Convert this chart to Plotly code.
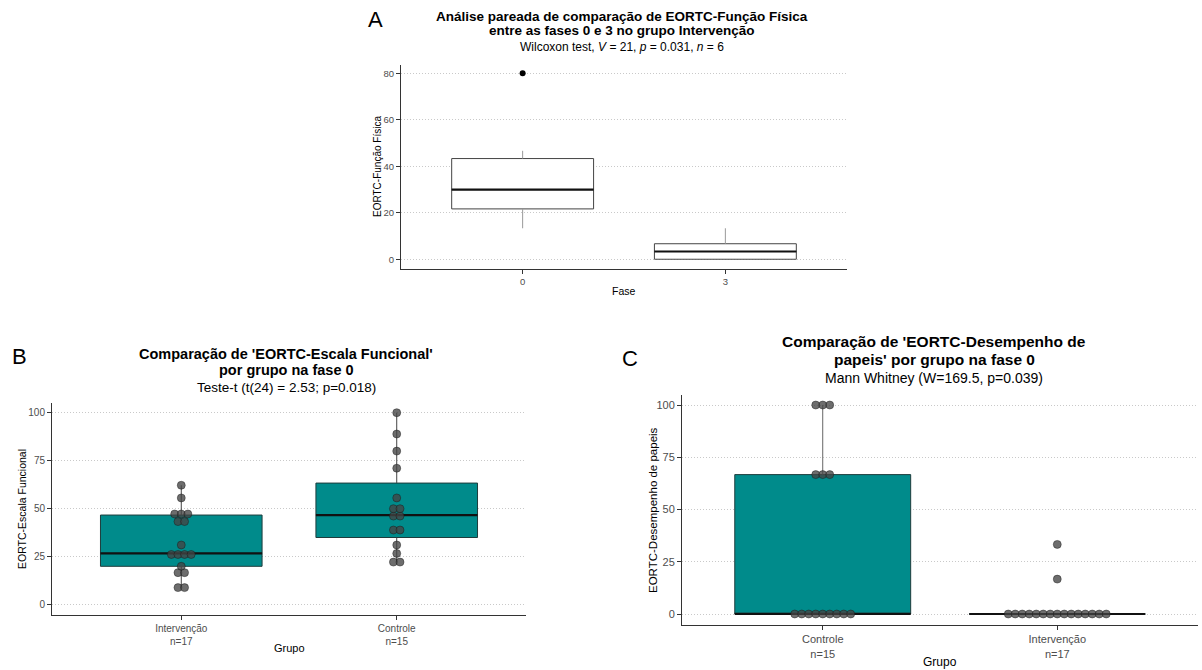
import numpy as np
import plotly.graph_objects as go

W, H = 1202, 670
FONT = "Liberation Sans, Arial, sans-serif"

# ---------------- data ----------------
# Panel A: EORTC-Função Física, fases 0 e 3 (grupo Intervenção, n=6 pareado)
fase_labels = ["0", "3"]
fase0 = [13.33, 20.0, 26.67, 33.33, 46.67, 80.0]
fase3 = [0.0, 0.0, 0.0, 6.67, 6.67, 13.33]

# Panel B: EORTC-Escala Funcional por grupo (fase 0)
grupos_B = ["Intervenção<br>n=17", "Controle<br>n=15"]
escala_intervencao = [8.9, 8.9, 16.7, 16.7, 20.0, 25.6, 25.6, 26.7, 26.7, 31.1,
                      43.3, 43.3, 46.7, 47.8, 47.8, 55.6, 62.2]
escala_controle = [22.2, 22.2, 26.7, 31.1, 38.9, 38.9, 45.6, 46.7, 50.0, 50.0,
                   55.6, 71.1, 80.0, 88.9, 100.0]

# Panel C: EORTC-Desempenho de papeis por grupo (fase 0)
grupos_C = ["Controle<br>n=15", "Intervenção<br>n=17"]
papeis_controle = [0, 0, 0, 0, 0, 0, 0, 0, 0, 66.7, 66.7, 66.7, 100, 100, 100]
papeis_intervencao = [0, 0, 0, 0, 0, 0, 0, 0, 0, 0, 0, 0, 0, 0, 0, 16.7, 33.3]

yticks_A = [0, 20, 40, 60, 80]
yticks_BC = [0, 25, 50, 75, 100]

TEAL = "#008B8B"

# ---------------- helpers ----------------
def xd(l, r):
    return [l / W, r / W]


def yd(top, bottom):
    return [1 - bottom / H, 1 - top / H]


def stats(v):
    v = np.asarray(v, float)
    q1, med, q3 = np.percentile(v, [25, 50, 75])
    iqr = q3 - q1
    lo = v[v >= q1 - 1.5 * iqr].min()
    hi = v[v <= q3 + 1.5 * iqr].max()
    out = v[(v < lo) | (v > hi)]
    return q1, med, q3, lo, hi, out


def dot_bins(vals, bw):
    v = sorted(vals)
    bins, cur, start = [], [v[0]], v[0]
    for x in v[1:]:
        if x - start < bw:
            cur.append(x)
        else:
            bins.append(cur)
            cur, start = [x], x
    bins.append(cur)
    return [((min(b) + max(b)) / 2, len(b)) for b in bins]


fig = go.Figure()


def add_panel(ax, groups, width, fill, box_col, whisk_col, dots, dx, bw, outlier=False):
    xa = "x" if ax == 1 else f"x{ax}"
    ya = "y" if ax == 1 else f"y{ax}"
    for pos, vals in enumerate(groups):
        q1, med, q3, lo, hi, out = stats(vals)
        fig.add_trace(go.Box(
            x=[pos], q1=[q1], median=[med], q3=[q3], lowerfence=[q1], upperfence=[q3],
            width=width, fillcolor=fill, line=dict(color=box_col, width=1),
            whiskerwidth=0, boxpoints=False, showlegend=False, hoverinfo="skip",
            xaxis=xa, yaxis=ya))
        for a, b in ((q3, hi), (q1, lo)):
            if b != a:
                fig.add_trace(go.Scatter(x=[pos, pos], y=[a, b], mode="lines",
                                         line=dict(color=whisk_col, width=1),
                                         showlegend=False, hoverinfo="skip",
                                         xaxis=xa, yaxis=ya))
        fig.add_trace(go.Scatter(x=[pos - width / 2, pos + width / 2], y=[med, med],
                                 mode="lines", line=dict(color="#111111", width=2.2),
                                 showlegend=False, hoverinfo="skip", xaxis=xa, yaxis=ya))
        if outlier and len(out):
            fig.add_trace(go.Scatter(x=[pos] * len(out), y=list(out), mode="markers",
                                     marker=dict(color="black", size=6),
                                     showlegend=False, hoverinfo="skip", xaxis=xa, yaxis=ya))
        if dots:
            xs, ys = [], []
            for yc, k in dot_bins(vals, bw):
                for i in range(k):
                    xs.append(pos + (i - (k - 1) / 2) * dx)
                    ys.append(yc)
            fig.add_trace(go.Scatter(
                x=xs, y=ys, mode="markers",
                marker=dict(color="rgba(68,68,68,0.78)", size=8,
                            line=dict(color="rgba(20,20,20,0.7)", width=0.6)),
                showlegend=False, hoverinfo="skip", xaxis=xa, yaxis=ya))


# pixel geometry of panels
PA = dict(l=401, r=847, t=65, b=269)
PB = dict(l=52, r=526, t=403, b=615)
PC = dict(l=682, r=1198, t=395, b=625)

add_panel(1, [fase0, fase3], 0.7, "white", "#444444", "#9a9a9a", False, 0, 0, outlier=True)

allB = escala_intervencao + escala_controle
unitB = (PB["r"] - PB["l"]) / 2.2
add_panel(2, [escala_intervencao, escala_controle], 0.75, TEAL, "#1e3c3c", "#444444",
          True, 6.6 / unitB, (max(allB) - min(allB)) / 30)

allC = papeis_controle + papeis_intervencao
unitC = (PC["r"] - PC["l"]) / 2.2
add_panel(3, [papeis_controle, papeis_intervencao], 0.75, TEAL, "#1e3c3c", "#666666",
          True, 7.0 / unitC, (max(allC) - min(allC)) / 30)


def xaxis(P, labels, size, anchor):
    return dict(domain=xd(P["l"], P["r"]), range=[-0.6, 1.6], tickvals=[0, 1],
                ticktext=labels, showgrid=False, zeroline=False, showline=True,
                linecolor="#333333", linewidth=1, ticks="outside", ticklen=4,
                tickcolor="#333333", tickfont=dict(size=size, color="#4d4d4d", family=FONT),
                anchor=anchor, fixedrange=True)


def yaxis(P, rng, ticks, size, anchor):
    return dict(domain=yd(P["t"], P["b"]), range=rng, tickvals=ticks,
                showgrid=True, gridcolor="#c9c9c9", griddash="1px,2px", gridwidth=1,
                zeroline=False, showline=True, linecolor="#333333", linewidth=1,
                ticks="outside", ticklen=4, tickcolor="#333333",
                tickfont=dict(size=size, color="#4d4d4d", family=FONT),
                anchor=anchor, fixedrange=True)


ann = []


def text(x, y, s, size, bold=False, angle=0, color="black"):
    ann.append(dict(x=x / W, y=1 - y / H, xref="paper", yref="paper", text=s,
                    showarrow=False, xanchor="center", yanchor="middle", textangle=angle,
                    font=dict(size=size, color=color, family=FONT)))


cA = (PA["l"] + PA["r"]) / 2
cB = (PB["l"] + PB["r"]) / 2
cC = (PC["l"] + PC["r"]) / 2

# Panel A texts
text(375, 20, "A", 22)
text(cA - 2, 16, "<b>Análise pareada de comparação de EORTC-Função Física</b>", 13.5)
text(cA - 2, 31, "<b>entre as fases 0 e 3 no grupo Intervenção</b>", 13.5)
text(cA - 2, 47, "Wilcoxon test, <i>V</i> = 21, <i>p</i> = 0.031, <i>n</i> = 6", 12)
text(378, (PA["t"] + PA["b"]) / 2, "EORTC-Função Física", 10, angle=-90)
text(cA, 291, "Fase", 10.5)

# Panel B texts
text(19, 356, "B", 22)
text(cB - 3, 354, "<b>Comparação de 'EORTC-Escala Funcional'</b>", 14.5)
text(cB - 3, 370, "<b>por grupo na fase 0</b>", 14.5)
text(cB - 3, 387, "Teste-t (t(24) = 2.53; p=0.018)", 13.5)
text(22, (PB["t"] + PB["b"]) / 2, "EORTC-Escala Funcional", 10.5, angle=-90)
text(cB, 648, "Grupo", 11)

# Panel C texts
text(630, 358, "C", 22)
text(cC - 6, 341, "<b>Comparação de 'EORTC-Desempenho de</b>", 15.5)
text(cC - 6, 359, "<b>papeis' por grupo na fase 0</b>", 15.5)
text(cC - 6, 378, "Mann Whitney (W=169.5, p=0.039)", 14)
text(653, (PC["t"] + PC["b"]) / 2, "EORTC-Desempenho de papeis", 11.5, angle=-90)
text(cC, 662, "Grupo", 12)

fig.update_layout(
    width=W, height=H, margin=dict(l=0, r=0, t=0, b=0),
    paper_bgcolor="white", plot_bgcolor="white",
    font=dict(family=FONT, color="black"),
    showlegend=False,
    xaxis=xaxis(PA, fase_labels, 9.5, "y"),
    yaxis=yaxis(PA, [-4.2, 83.6], yticks_A, 9.5, "x"),
    xaxis2=xaxis(PB, grupos_B, 10, "y2"),
    yaxis2=yaxis(PB, [-5.36, 105.05], yticks_BC, 10, "x2"),
    xaxis3=xaxis(PC, grupos_C, 11, "y3"),
    yaxis3=yaxis(PC, [-5.26, 104.8], yticks_BC, 11, "x3"),
    annotations=ann,
)

fig.write_html("out.html")
